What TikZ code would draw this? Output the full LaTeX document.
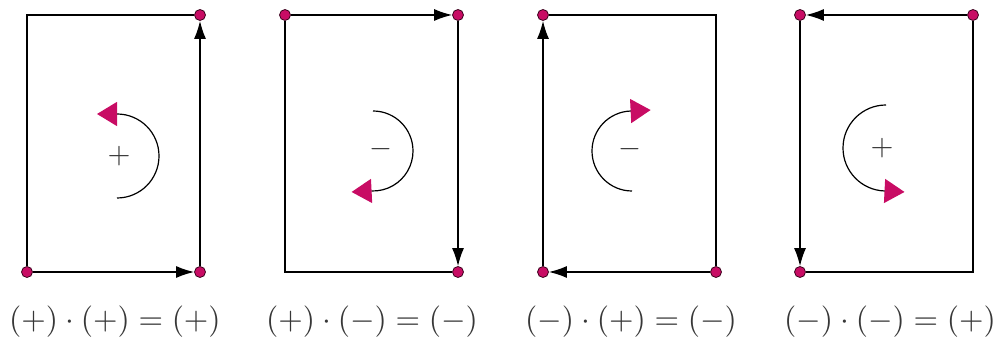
\documentclass[tikz,border=0pt]{standalone}
\usetikzlibrary{arrows.meta}
\definecolor{mag}{RGB}{200,12,100}
\definecolor{txt}{RGB}{55,55,55}
\newcommand{\bigsign}[1]{\scalebox{2.95}{$#1$}}
\newcommand{\biglab}[1]{\scalebox{3.15}{$#1$}}
\tikzset{
  dot/.style={circle,fill=mag,draw=black!70!mag,line width=0.8pt,inner sep=0pt,minimum size=11pt},
  edge/.style={line width=1.3pt,black},
  edgearrow/.style={edge,-{Latex[length=18pt,width=12pt]}},
  rot/.style={line width=1.2pt,black,-{Triangle[length=20pt,width=24pt,color=mag]}},
  sign/.style={text=txt,inner sep=0pt},
  lab/.style={text=txt,inner sep=0pt}
}
\begin{document}
\begin{tikzpicture}[x=1pt,y=1pt]
\useasboundingbox (0,0) rectangle (1003,342);
% ---------- panel 1 ----------
\coordinate (p1tl) at (27,327);
\node[dot] (p1tr) at (200,327) {};
\node[dot] (p1bl) at (27,70) {};
\node[dot] (p1br) at (200,70) {};
\draw[edge] (p1bl) -- (p1tl) -- (p1tr);
\draw[edgearrow] (p1bl) -- (p1br);
\draw[edgearrow] (p1br) -- (p1tr);
\draw[rot] (117,144) arc[start angle=-90,end angle=90,radius=42] -- ++(-20,0);
\node[sign] (s1) at (119,186) {\bigsign{+}};
\node[lab] (l1) at (115,20) {\biglab{(+)\cdot(+)=(+)}};
% ---------- panel 2 ----------
\node[dot] (p2tl) at (285,327) {};
\node[dot] (p2tr) at (458,327) {};
\coordinate (p2bl) at (285,70);
\node[dot] (p2br) at (458,70) {};
\draw[edge] (p2tl) -- (p2bl) -- (p2br);
\draw[edgearrow] (p2tl) -- (p2tr);
\draw[edgearrow] (p2tr) -- (p2br);
\draw[rot] (373,231) arc[start angle=90,end angle=-92,radius=40] -- ++(-20,-1);
\node[sign] (s2) at (381,193) {\bigsign{-}};
\node[lab] (l2) at (372,20) {\biglab{(+)\cdot(-)=(-)}};
% ---------- panel 3 ----------
\node[dot] (p3tl) at (543,327) {};
\coordinate (p3tr) at (716,327);
\node[dot] (p3bl) at (543,70) {};
\node[dot] (p3br) at (716,70) {};
\draw[edge] (p3tl) -- (p3tr) -- (p3br);
\draw[edgearrow] (p3br) -- (p3bl);
\draw[edgearrow] (p3bl) -- (p3tl);
\draw[rot] (632,151) arc[start angle=270,end angle=92,radius=40] -- ++(20,1);
\node[sign] (s3) at (630,193) {\bigsign{-}};
\node[lab] (l3) at (631,20) {\biglab{(-)\cdot(+)=(-)}};
% ---------- panel 4 ----------
\node[dot] (p4tl) at (800,327) {};
\node[dot] (p4tr) at (973,327) {};
\node[dot] (p4bl) at (800,70) {};
\coordinate (p4br) at (973,70);
\draw[edge] (p4tr) -- (p4br) -- (p4bl);
\draw[edgearrow] (p4tr) -- (p4tl);
\draw[edgearrow] (p4tl) -- (p4bl);
\draw[rot] (886,237) arc[start angle=90,end angle=268,radius=43] -- ++(20,-1);
\node[sign] (s4) at (882,194) {\bigsign{+}};
\node[lab] (l4) at (890,20) {\biglab{(-)\cdot(-)=(+)}};
\end{tikzpicture}
\end{document}
